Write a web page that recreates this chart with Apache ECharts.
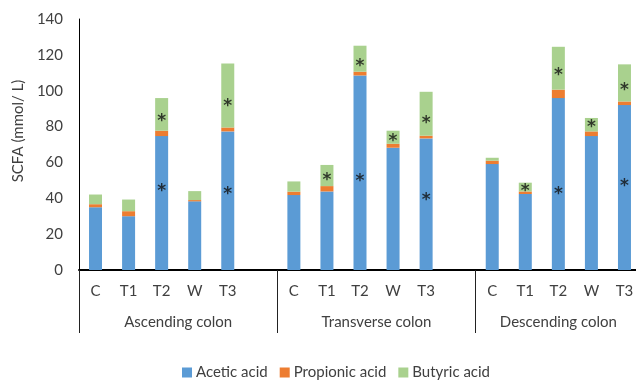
<!DOCTYPE html>
<html>
<head>
<meta charset="utf-8">
<script src="https://cdn.jsdelivr.net/npm/echarts@6/dist/echarts.min.js"></script>
<style>
  html, body { margin: 0; padding: 0; background: #fff; }
  #chart { width: 636px; height: 383px; }
</style>
</head>
<body>
<div id="chart"></div>
<script>
// Colon regions and treatments (treatment order within each region)
const regions = ['Ascending colon', 'Transverse colon', 'Descending colon'];
const treatments = ['C', 'T1', 'T2', 'W', 'T3'];

// SCFA concentrations (mmol/L), region by region, treatments C, T1, T2, W, T3
const acetic    = [35.0, 30.0, 74.7, 38.3, 77.3,   41.8, 43.8, 108.5, 68.2, 73.4,   59.1, 42.4, 95.9, 74.7, 92.0];
const propionic = [ 1.7,  2.8,  3.0,  0.7,  2.2,    1.9,  3.0,   2.1,  2.2,  1.5,    1.9,  1.4,  4.7,  2.6,  2.0];
const butyric   = [ 5.4,  6.5, 18.2,  5.0, 35.7,    5.7, 11.8,  14.5,  7.3, 24.5,    1.6,  4.9, 23.9,  7.5, 20.7];

// Heights of the significance asterisks (null where there is none)
const starAcetic  = [null, null, 45.5, null, 44.0,   null, null, 51.0, null, 40.5,   null, null, 44.0, null, 48.0];
const starButyric = [null, null, 84.6, null, 92.9,   null, 51.6, 115.2, 73.4, 83.3,  null, 45.5, 109.9, 80.9, 101.5];

// Value axis ticks
const yMin = 0, yMax = 140, yStep = 20;

const FONT = 'Lato';
const FS = 15;
const TEXT = '#404040';

// Spread the per-region values over the category slots, leaving an empty
// spacer slot between neighbouring regions.
function slotted(values, blank) {
  const out = [];
  regions.forEach((r, ri) => {
    treatments.forEach((t, ti) => out.push(values[ri * treatments.length + ti]));
    if (ri < regions.length - 1) out.push(blank);
  });
  return out;
}

const categories = slotted(treatments.concat(treatments, treatments), '');
const nSlots = categories.length;              // 17
const nPoints = nSlots * 2 + 1;                // half-slot points of the region axis

// Region axis: points every half slot; separators at region boundaries,
// region names centred over each region's slots.
const regionStart = [], regionCenter = [];
{
  let s = 0;
  regions.forEach((r, ri) => {
    const n = treatments.length + (ri < regions.length - 1 ? 1 : 0);
    regionStart.push(2 * s);
    regionCenter.push(2 * s + n);
    s += n;
  });
  regionStart.push(2 * s);
}
const regionPoints = Array.from({ length: nPoints }, (_, i) => {
  const k = regionCenter.indexOf(i);
  return k >= 0 ? regions[k] : '';
});

const barBase = { type: 'bar', stack: 'scfa', barWidth: 13, xAxisIndex: 0, yAxisIndex: 0 };

function starSeries(values) {
  return {
    type: 'scatter',
    xAxisIndex: 0,
    yAxisIndex: 0,
    symbolSize: 0,
    silent: true,
    z: 5,
    data: slotted(values, null),
    label: {
      show: true,
      position: 'inside',
      formatter: '*',
      fontFamily: 'DejaVu Sans',
      fontSize: 17,
      fontWeight: 'bold',
      color: '#111',
      offset: [0, 3]
    }
  };
}

const chart = echarts.init(document.getElementById('chart'), null, { renderer: 'canvas' });
chart.setOption({
  animation: false,
  backgroundColor: '#fff',
  textStyle: { fontFamily: FONT },
  // the last region runs a little past the right edge of the canvas
  grid: { left: 79, top: 19, width: 562, height: 251, containLabel: false, outerBoundsMode: 'none' },
  legend: {
    data: ['Acetic acid', 'Propionic acid', 'Butyric acid'],
    left: 182,
    top: 365,
    padding: 0,
    icon: 'rect',
    itemWidth: 10,
    itemHeight: 10,
    itemGap: 12,
    textStyle: { fontFamily: FONT, fontSize: FS, color: TEXT, padding: [0, 0, 0, -1] }
  },
  xAxis: [
    {
      type: 'category',
      data: categories,
      position: 'bottom',
      axisLine: { show: true, lineStyle: { color: '#000', width: 2 } },
      axisTick: { show: false },
      axisLabel: { interval: 0, margin: 14, fontFamily: FONT, fontSize: FS, color: TEXT },
      splitLine: { show: false }
    },
    {
      type: 'category',
      data: regionPoints,
      boundaryGap: false,
      position: 'bottom',
      axisLine: { show: false },
      axisTick: {
        show: true,
        inside: false,
        length: 63,
        interval: (i) => regionStart.indexOf(i) >= 0,
        lineStyle: { color: '#222', width: 1 }
      },
      axisLabel: { interval: 0, margin: 45, fontFamily: FONT, fontSize: FS, color: TEXT },
      splitLine: { show: false }
    }
  ],
  yAxis: {
    type: 'value',
    min: yMin,
    max: yMax,
    interval: yStep,
    axisLine: { show: true, lineStyle: { color: '#000', width: 1 } },
    axisTick: { show: false },
    axisLabel: { margin: 16, fontFamily: FONT, fontSize: FS, color: TEXT },
    splitLine: { show: false }
  },
  graphic: [{
    type: 'text',
    x: 18,
    y: 131,
    rotation: Math.PI / 2,
    style: {
      text: 'SCFA (mmol/ L)',
      font: FS + 'px ' + FONT,
      fill: TEXT,
      textAlign: 'center',
      textVerticalAlign: 'middle'
    }
  }],
  series: [
    Object.assign({}, barBase, { name: 'Acetic acid', data: slotted(acetic, null), itemStyle: { color: '#5B9BD5' } }),
    Object.assign({}, barBase, { name: 'Propionic acid', data: slotted(propionic, null), itemStyle: { color: '#ED7D31' } }),
    Object.assign({}, barBase, { name: 'Butyric acid', data: slotted(butyric, null), itemStyle: { color: '#A9D18E' } }),
    starSeries(starAcetic),
    starSeries(starButyric)
  ]
});
</script>
</body>
</html>
